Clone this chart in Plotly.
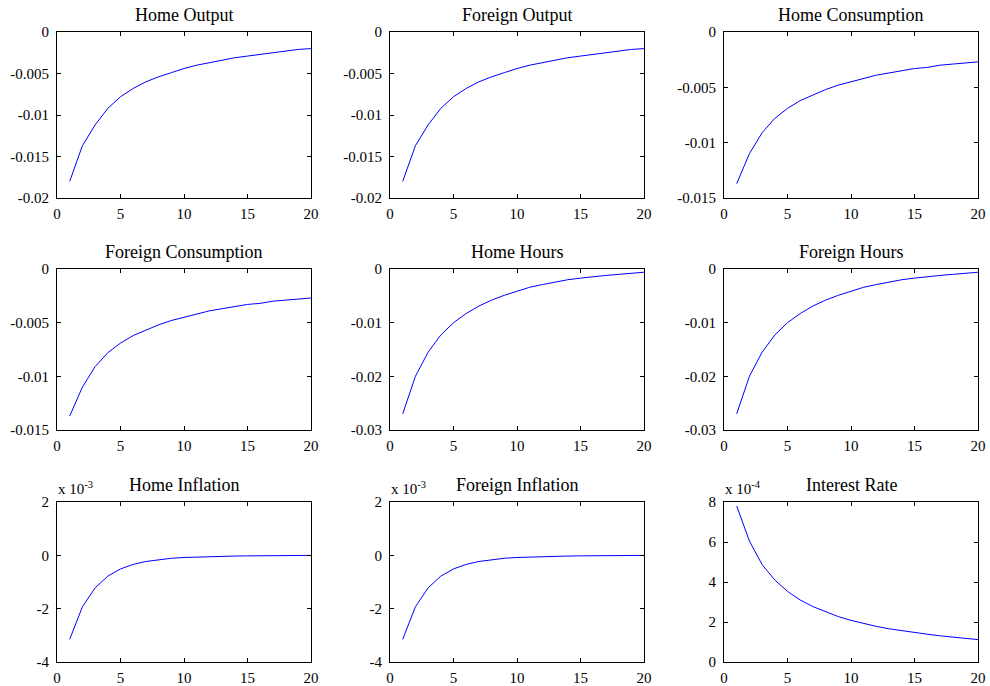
import plotly.graph_objects as go

periods = list(range(1, 21))

home_output = [-0.0180, -0.0137, -0.0112, -0.0092, -0.0078, -0.0068, -0.0060, -0.0054, -0.0049, -0.0044,
               -0.0040, -0.0037, -0.0034, -0.0031, -0.0029, -0.0027, -0.0025, -0.0023, -0.0021, -0.0020]
foreign_output = [-0.0180, -0.0137, -0.0112, -0.0092, -0.0078, -0.0068, -0.0060, -0.0054, -0.0049, -0.0044,
                  -0.0040, -0.0037, -0.0034, -0.0031, -0.0029, -0.0027, -0.0025, -0.0023, -0.0021, -0.0020]
home_consumption = [-0.0137, -0.0110, -0.0091, -0.0078, -0.0069, -0.0062, -0.0057, -0.0052, -0.0048, -0.0045,
                    -0.0042, -0.0039, -0.0037, -0.0035, -0.0033, -0.0032, -0.0030, -0.0029, -0.0028, -0.0027]
foreign_consumption = [-0.0137, -0.0110, -0.0091, -0.0078, -0.0069, -0.0062, -0.0057, -0.0052, -0.0048, -0.0045,
                       -0.0042, -0.0039, -0.0037, -0.0035, -0.0033, -0.0032, -0.0030, -0.0029, -0.0028, -0.0027]
home_hours = [-0.0270, -0.0200, -0.0155, -0.0123, -0.0100, -0.0083, -0.0069, -0.0058, -0.0049, -0.0041,
              -0.0034, -0.0029, -0.0024, -0.0020, -0.0017, -0.0014, -0.0012, -0.0010, -0.0008, -0.0006]
foreign_hours = [-0.0270, -0.0200, -0.0155, -0.0123, -0.0100, -0.0083, -0.0069, -0.0058, -0.0049, -0.0041,
                 -0.0034, -0.0029, -0.0024, -0.0020, -0.0017, -0.0014, -0.0012, -0.0010, -0.0008, -0.0006]
home_inflation = [-3.15e-3, -1.93e-3, -1.22e-3, -0.78e-3, -0.51e-3, -0.34e-3, -0.23e-3, -0.16e-3, -0.11e-3, -0.08e-3,
                  -0.06e-3, -0.045e-3, -0.035e-3, -0.027e-3, -0.020e-3, -0.015e-3, -0.010e-3, -0.007e-3, -0.004e-3, -0.002e-3]
foreign_inflation = [-3.15e-3, -1.93e-3, -1.22e-3, -0.78e-3, -0.51e-3, -0.34e-3, -0.23e-3, -0.16e-3, -0.11e-3, -0.08e-3,
                     -0.06e-3, -0.045e-3, -0.035e-3, -0.027e-3, -0.020e-3, -0.015e-3, -0.010e-3, -0.007e-3, -0.004e-3, -0.002e-3]
interest_rate = [7.80e-4, 6.05e-4, 4.87e-4, 4.10e-4, 3.53e-4, 3.10e-4, 2.77e-4, 2.50e-4, 2.27e-4, 2.08e-4,
                 1.92e-4, 1.78e-4, 1.66e-4, 1.56e-4, 1.47e-4, 1.39e-4, 1.31e-4, 1.24e-4, 1.18e-4, 1.12e-4]

titles = ["Home Output", "Foreign Output", "Home Consumption",
          "Foreign Consumption", "Home Hours", "Foreign Hours",
          "Home Inflation", "Foreign Inflation", "Interest Rate"]
series = [home_output, foreign_output, home_consumption,
          foreign_consumption, home_hours, foreign_hours,
          home_inflation, foreign_inflation, interest_rate]

x_ticks = [0, 5, 10, 15, 20]
x_labels = ["0", "5", "10", "15", "20"]

yt_output = [-0.02, -0.015, -0.01, -0.005, 0]
yl_output = ["-0.02", "-0.015", "-0.01", "-0.005", "0"]
yt_cons = [-0.015, -0.01, -0.005, 0]
yl_cons = ["-0.015", "-0.01", "-0.005", "0"]
yt_hours = [-0.03, -0.02, -0.01, 0]
yl_hours = ["-0.03", "-0.02", "-0.01", "0"]
yt_infl = [-0.004, -0.002, 0, 0.002]
yl_infl = ["-4", "-2", "0", "2"]
yt_rate = [0, 0.0002, 0.0004, 0.0006, 0.0008]
yl_rate = ["0", "2", "4", "6", "8"]

y_ticks = [yt_output, yt_output, yt_cons, yt_cons, yt_hours, yt_hours, yt_infl, yt_infl, yt_rate]
y_labels = [yl_output, yl_output, yl_cons, yl_cons, yl_hours, yl_hours, yl_infl, yl_infl, yl_rate]
exponents = [None, None, None, None, None, None, "-3", "-3", "-4"]

W, H = 990, 686
col_px = [(57, 311), (390, 644), (724, 978)]
row_px = [(32, 198), (269, 430), (502, 662)]

FONT = "Liberation Serif, Times New Roman, serif"

fig = go.Figure()
annotations = []
for i in range(9):
    r, c = divmod(i, 3)
    n = i + 1
    xa = "x" if n == 1 else f"x{n}"
    ya = "y" if n == 1 else f"y{n}"
    fig.add_trace(go.Scatter(x=periods, y=series[i], mode="lines",
                             line=dict(color="#0000FF", width=1),
                             xaxis=xa, yaxis=ya, showlegend=False, hoverinfo="skip"))
    x0, x1 = col_px[c]
    y0, y1 = row_px[r]
    yt = y_ticks[i]
    common = dict(showline=True, mirror="ticks", linecolor="black", linewidth=1,
                  ticks="inside", ticklen=4, tickcolor="black", showgrid=False,
                  zeroline=False, automargin=False,
                  tickfont=dict(family=FONT, size=15, color="black"))
    fig.layout[f"xaxis{'' if n == 1 else n}"] = dict(
        domain=[x0 / W, x1 / W], range=[0, 20], anchor=ya,
        tickmode="array", tickvals=x_ticks, ticktext=x_labels, ticklabelstandoff=2, **common)
    fig.layout[f"yaxis{'' if n == 1 else n}"] = dict(
        domain=[1 - y1 / H, 1 - y0 / H], range=[yt[0], yt[-1]], anchor=xa,
        tickmode="array", tickvals=yt, ticktext=y_labels[i], ticklabelstandoff=4, **common)
    annotations.append(dict(text=titles[i], xref="paper", yref="paper",
                            x=(x0 + x1) / 2 / W, y=1 - (y0 - 17) / H,
                            xanchor="center", yanchor="middle", showarrow=False,
                            font=dict(family=FONT, size=18, color="black")))
    if exponents[i]:
        annotations.append(dict(text=f"x 10<sup>{exponents[i]}</sup>", xref="paper", yref="paper",
                                x=x0 / W, y=1 - (y0 - 4) / H, xanchor="left", yanchor="bottom",
                                showarrow=False, borderpad=0,
                                font=dict(family=FONT, size=15, color="black")))

fig.update_layout(width=W, height=H, margin=dict(l=0, r=0, t=0, b=0, pad=0, autoexpand=False),
                  paper_bgcolor="white", plot_bgcolor="white",
                  annotations=annotations, hovermode=False)
fig.write_html("out.html", config={"displayModeBar": False},
               post_script="document.body.style.margin='0';document.body.style.overflow='hidden';")
